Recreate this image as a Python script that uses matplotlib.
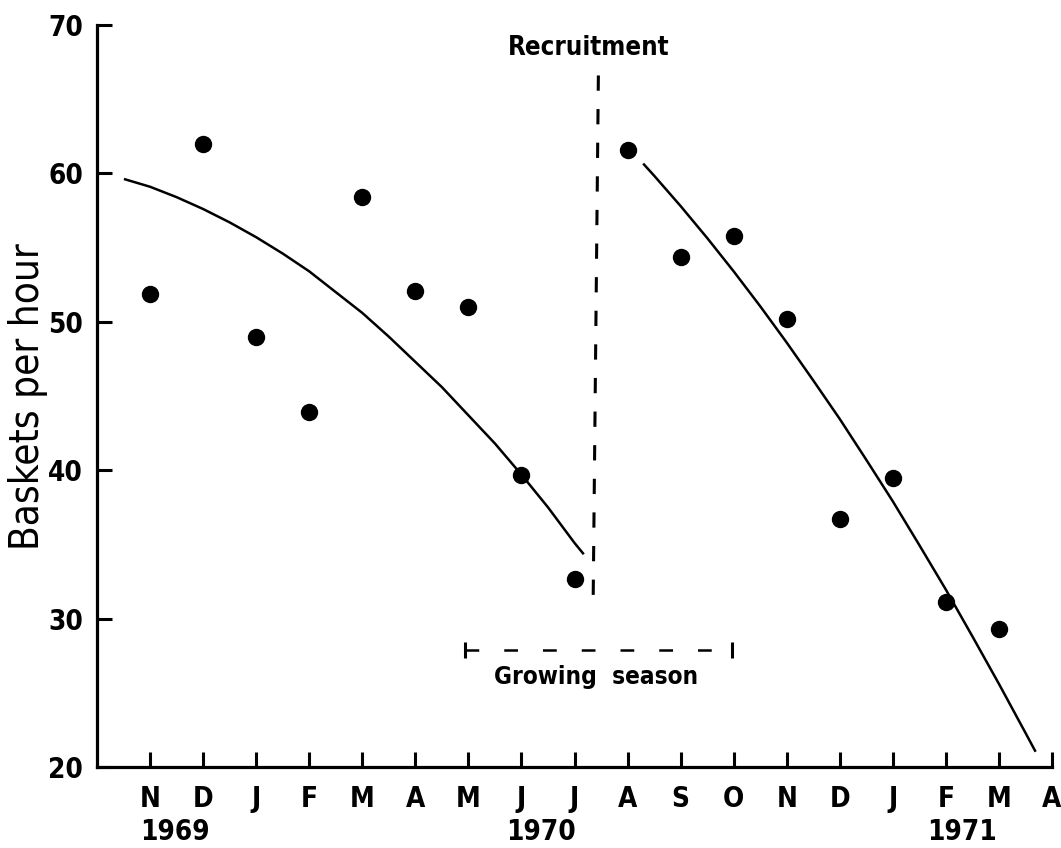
import matplotlib
matplotlib.use("Agg")
import matplotlib.pyplot as plt

# ---------------- DATA ---------------- #

months = ["N", "D", "J", "F", "M", "A", "M", "J", "J",
          "A", "S", "O", "N", "D", "J", "F", "M", "A"]
month_pos = list(range(len(months)))

years = ["1969", "1970", "1971"]
year_pos = [0.47, 7.37, 15.3]

# observed catch rate, one point per month (Nov 1969 - Mar 1971)
obs_x = [0, 1, 2, 3, 4, 5, 6, 7, 8, 9, 10, 11, 12, 13, 14, 15, 16]
obs_y = [51.9, 62.0, 49.0, 43.9, 58.4, 52.1, 51.0, 39.7, 32.7,
         61.6, 54.4, 55.8, 50.2, 36.7, 39.5, 31.1, 29.3]

# fitted curve before recruitment
fit1_x = [-0.47, 0, 0.5, 1, 1.5, 2, 2.5, 3, 3.5, 4, 4.5, 5, 5.5, 6, 6.5, 7, 7.5, 8, 8.16]
fit1_y = [59.6, 59.1, 58.4, 57.6, 56.7, 55.7, 54.6, 53.4, 52.0, 50.6,
          49.0, 47.3, 45.6, 43.7, 41.8, 39.7, 37.5, 35.1, 34.4]

# fitted curve after recruitment
fit2_x = [9.31, 9.5, 10, 10.5, 11, 11.5, 12, 12.5, 13, 13.5, 14, 14.5, 15, 15.5, 16, 16.5, 16.68]
fit2_y = [60.6, 59.85, 57.8, 55.65, 53.4, 51.05, 48.6, 46.05, 43.45, 40.7,
          37.9, 34.95, 31.95, 28.8, 25.6, 22.3, 21.1]

recruit_x = [8.45, 8.35]
recruit_y = [66.6, 30.6]

season_x = [5.94, 10.97]
season_y = 27.9

# ---------------- PLOT ---------------- #

plt.rcParams["font.family"] = ["DejaVu Sans"]
plt.rcParams["font.stretch"] = "condensed"

fig = plt.figure(figsize=(10.61, 8.48), dpi=100)
ax = fig.add_axes([97 / 1061, 81 / 848, 955 / 1061, 742 / 848])

ax.plot(obs_x, obs_y, "o", color="black", markersize=11.5)
ax.plot(fit1_x, fit1_y, color="black", lw=1.8)
ax.plot(fit2_x, fit2_y, color="black", lw=1.8)

# recruitment marker
ax.plot(recruit_x, recruit_y, color="black", lw=2.2, dashes=(5, 6))
ax.text(8.27, 67.6, "Recruitment", ha="center", va="bottom",
        fontsize=18.5, fontweight="bold")

# growing season bar
ax.plot(season_x, [season_y, season_y], color="black", lw=1.8, dashes=(5.5, 10))
ax.plot(season_x, [season_y, season_y], "|", color="black", markersize=12, mew=2.2)
ax.text(8.4, 26.9, "Growing  season", ha="center", va="top",
        fontsize=17.5, fontweight="bold")

ax.set_xlim(-1, 17)
ax.set_ylim(20, 70)
ax.set_xticks(month_pos)
ax.set_xticklabels(months)
ax.set_yticks([20, 30, 40, 50, 60, 70])

for s in ["top", "right"]:
    ax.spines[s].set_visible(False)
for s in ["left", "bottom"]:
    ax.spines[s].set_linewidth(2.3)

ax.tick_params(axis="both", direction="in", length=11, width=2.2,
               labelsize=20)
ax.tick_params(axis="x", pad=13)
ax.tick_params(axis="y", pad=10)
for lab in ax.get_xticklabels() + ax.get_yticklabels():
    lab.set_fontweight("bold")

for yr, xp in zip(years, year_pos):
    ax.text(xp, 15.6, yr, ha="center", va="center", fontsize=20,
            fontweight="bold")

fig.text(28 / 1061, 1 - 397 / 848, "Baskets per hour", rotation=90,
         ha="center", va="center", fontsize=29)

plt.savefig("out.png", dpi=100)
plt.close()
